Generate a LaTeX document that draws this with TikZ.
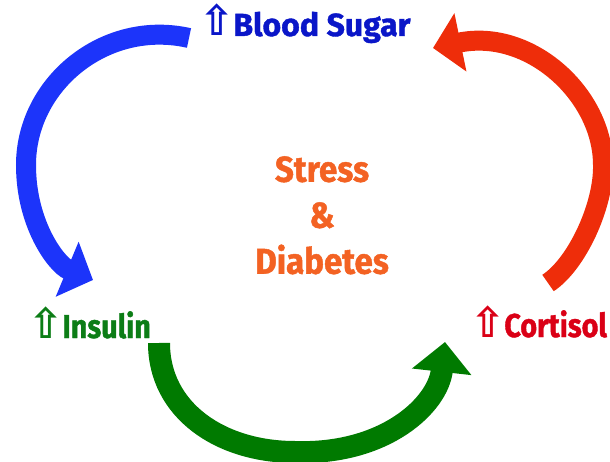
\documentclass[tikz,border=0pt]{standalone}
\usepackage{fontspec}
\setmainfont{Fira Sans}
\newfontfamily\wideface[FakeBold=1.2]{Fira Sans}
\newfontfamily\narrowface[FakeStretch=0.87,FakeBold=1.2]{Fira Sans}
\newfontfamily\titleface[FakeStretch=0.92,FakeBold=1.2]{Fira Sans}
\newfontfamily\arrowfont{DejaVu Sans}
\usetikzlibrary{arrows.meta}

\definecolor{sugarblue}{RGB}{10,22,200}
\definecolor{arcblue}{RGB}{28,52,250}
\definecolor{insgreen}{RGB}{12,125,22}
\definecolor{arcgreen}{RGB}{0,122,0}
\definecolor{cortred}{RGB}{218,0,22}
\definecolor{arcred}{RGB}{238,45,10}
\definecolor{stressorange}{RGB}{243,98,35}

\newcommand{\upmark}{{\arrowfont\fontsize{42}{42}\selectfont ⇧}\hspace{-1pt}}

\begin{document}
\begin{tikzpicture}[x=1pt, y=-1pt, >=Triangle]

\tikzstyle{hormone} = [inner sep=0pt, anchor=base west,
                       font=\narrowface\fontsize{33}{40}\selectfont\bfseries]
\tikzstyle{topic}   = [inner sep=0pt, anchor=north, align=center,
                       text=stressorange,
                       font=\titleface\fontsize{36}{46}\selectfont\bfseries]
\tikzstyle{bluearc}  = [draw=arcblue, line width=20pt,
                        -{Triangle[length=28pt, width=58pt]}]
\tikzstyle{redarc}   = [draw=arcred, line width=20pt,
                        -{Triangle[length=28pt, width=58pt]}]
\tikzstyle{greenarc} = [draw=arcgreen, line width=22pt,
                        -{Triangle[length=30pt, width=58pt]}]

\useasboundingbox (0,0) rectangle (610,462);

% ── Labels ──────────────────────────────────────────
\node[hormone, text=sugarblue, font=\wideface\fontsize{32}{38}\selectfont\bfseries]
      (sugar)    at (199,36)  {\upmark Blood Sugar};
\node[hormone, text=insgreen]  (insulin)  at (28,338)  {\upmark Insulin};
\node[hormone, text=cortred]   (cortisol) at (470,337) {\upmark Cortisol};

% ── Centre title ────────────────────────────────────
\node[topic] (stress) at (322,156) {Stress\\\&\\Diabetes};

% ── Arrow end points ────────────────────────────────
\coordinate (btail) at (189,38);
\coordinate (bleft) at (26,165);
\coordinate (btip)  at (93,280);
\coordinate (rtail) at (548,283);
\coordinate (rside) at (603,165);
\coordinate (rtip)  at (433,48);
\coordinate (gtail) at (159,343);
\coordinate (gbase) at (295,452);
\coordinate (gtip)  at (445,342);

% ── Arrows: the cycle ───────────────────────────────
\draw[bluearc]  (btail) .. controls (105,19) and (26,84) .. (bleft)
                        .. controls (26,225) and (57,265) .. (btip);
\draw[greenarc] (gtail) .. controls (159,410) and (220,452) .. (gbase)
                        .. controls (385,455) and (438,405) .. (gtip);
\draw[redarc]   (rtail) .. controls (577,264) and (604,205) .. (rside)
                        .. controls (603,95) and (530,28) .. (rtip);

\end{tikzpicture}
\end{document}
